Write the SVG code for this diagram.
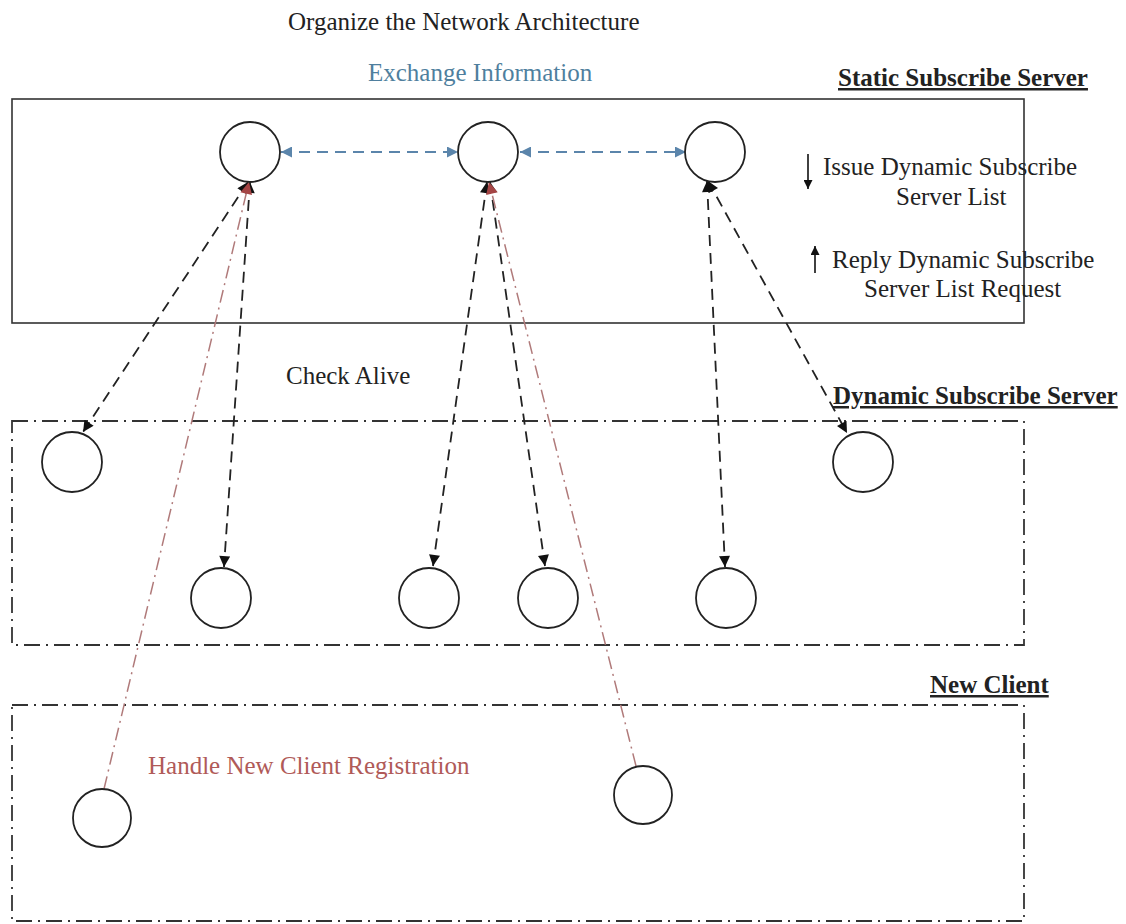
<svg xmlns="http://www.w3.org/2000/svg" width="1126" height="924" viewBox="0 0 1126 924">
<style>
  .t{font-family:"Liberation Serif","Times New Roman",serif;font-size:25px;fill:#222}
  .b{font-weight:bold;text-decoration:underline}
  .node{fill:#fff;stroke:#222;stroke-width:1.8}
  .frame{fill:none;stroke:#333;stroke-width:1.6}
  .dd{fill:none;stroke:#333;stroke-width:1.8;stroke-dasharray:16 6 2 6}
  .blk{stroke:#222;stroke-width:1.8;stroke-dasharray:11 7;fill:none;marker-start:url(#ab);marker-end:url(#ab)}
  .blu{stroke:#5b85ab;stroke-width:1.8;stroke-dasharray:11 7;fill:none;marker-start:url(#au);marker-end:url(#au)}
  .red{stroke:#b07a7a;stroke-width:1.5;stroke-dasharray:13 5 2 5;fill:none;marker-end:url(#ar)}
</style>
<defs>
  <marker id="ab" viewBox="0 0 10 10" refX="10" refY="5" markerWidth="13" markerHeight="11" markerUnits="userSpaceOnUse" orient="auto-start-reverse"><path d="M0,0 L10,5 L0,10 Z" fill="#111"/></marker>
  <marker id="au" viewBox="0 0 10 10" refX="10" refY="5" markerWidth="13" markerHeight="11" markerUnits="userSpaceOnUse" orient="auto-start-reverse"><path d="M0,0 L10,5 L0,10 Z" fill="#5b85ab"/></marker>
  <marker id="ar" viewBox="0 0 10 10" refX="10" refY="5" markerWidth="14" markerHeight="12" markerUnits="userSpaceOnUse" orient="auto"><path d="M0,0 L10,5 L0,10 Z" fill="#a54545"/></marker>
  <marker id="as" viewBox="0 0 10 10" refX="10" refY="5" markerWidth="10" markerHeight="9" markerUnits="userSpaceOnUse" orient="auto"><path d="M0,0 L10,5 L0,10 Z" fill="#111"/></marker>
</defs>

<g id="frames">
  <rect class="frame" x="12" y="99" width="1012" height="224"/>
  <rect class="dd" x="12" y="421" width="1012" height="224"/>
  <rect class="dd" x="12" y="705" width="1012" height="216"/>
</g>

<g id="labels">
  <text class="t" x="288" y="30">Organize the Network Architecture</text>
  <text class="t" x="368" y="81" style="fill:#4f7f9e">Exchange Information</text>
  <text class="t b" x="838" y="86">Static Subscribe Server</text>
  <text class="t" x="823" y="175">Issue Dynamic Subscribe</text>
  <text class="t" x="896" y="205">Server List</text>
  <text class="t" x="832" y="268">Reply Dynamic Subscribe</text>
  <text class="t" x="864" y="297">Server List Request</text>
  <text class="t" x="286" y="384">Check Alive</text>
  <text class="t b" x="833" y="404">Dynamic Subscribe Server</text>
  <text class="t b" x="930" y="693">New Client</text>
  <text class="t" x="148" y="774" style="fill:#b05a58">Handle New Client Registration</text>
  <line x1="808" y1="154" x2="808" y2="189" stroke="#111" stroke-width="1.6" marker-end="url(#as)"/>
  <line x1="815" y1="273" x2="815" y2="246" stroke="#111" stroke-width="1.6" marker-end="url(#as)"/>
</g>

<g id="connectors">
  <line class="blu" x1="281" y1="152" x2="458" y2="152"/>
  <line class="blu" x1="520" y1="152" x2="686" y2="152"/>
  <line class="blk" x1="248" y1="182" x2="83" y2="432"/>
  <line class="blk" x1="250" y1="182" x2="224" y2="567"/>
  <line class="blk" x1="487" y1="182" x2="433" y2="566"/>
  <line class="blk" x1="490" y1="182" x2="545" y2="566"/>
  <line class="blk" x1="707" y1="181" x2="725" y2="567"/>
  <line class="blk" x1="708" y1="181" x2="847" y2="433"/>
  <line class="red" x1="104" y1="789" x2="249" y2="182"/>
  <line class="red" x1="636" y1="766" x2="489" y2="182"/>
</g>

<g id="static-1"><circle class="node" cx="250" cy="152" r="30"/></g>
<g id="static-2"><circle class="node" cx="488" cy="152" r="30"/></g>
<g id="static-3"><circle class="node" cx="715" cy="152" r="30"/></g>
<g id="dyn-1"><circle class="node" cx="72" cy="462" r="30"/></g>
<g id="dyn-2"><circle class="node" cx="863" cy="462" r="30"/></g>
<g id="dyn-3"><circle class="node" cx="221" cy="598" r="30"/></g>
<g id="dyn-4"><circle class="node" cx="429" cy="598" r="30"/></g>
<g id="dyn-5"><circle class="node" cx="548" cy="598" r="30"/></g>
<g id="dyn-6"><circle class="node" cx="726" cy="598" r="30"/></g>
<g id="client-1"><circle class="node" cx="102" cy="818" r="29"/></g>
<g id="client-2"><circle class="node" cx="643" cy="795" r="29"/></g>
</svg>
